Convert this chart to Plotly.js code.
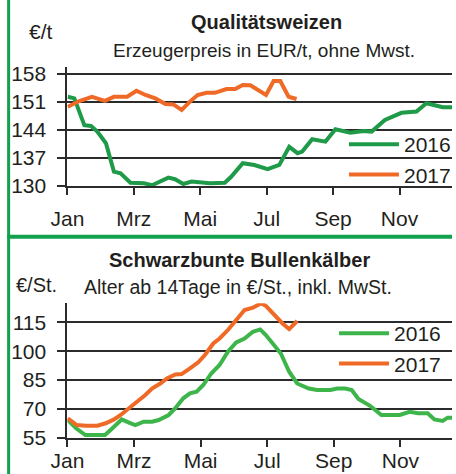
<!DOCTYPE html>
<html>
<head>
<meta charset="utf-8">
<script src="https://cdn.plot.ly/plotly-3.0.1.min.js"></script>
<style>
html,body{margin:0;padding:0;background:#fff;}
#chart{width:456px;height:474px;}
</style>
</head>
<body>
<div id="chart"></div>
<script>
// ---- data (x = position in months from 1 January) ----
const monthTicks = [0, 2, 4, 6, 8, 10];
const monthLabels = ['Jan', 'Mrz', 'Mai', 'Jul', 'Sep', 'Nov'];

const weizenTicks = [130, 137, 144, 151, 158];
const kaelberTicks = [55, 70, 85, 100, 115];

const weizen2016X = [0.01,0.21,0.51,0.71,0.90,1.16,1.40,1.60,1.90,2.30,2.55,2.80,3.04,3.24,3.49,3.74,4.04,4.29,4.74,4.93,5.28,5.63,6.03,6.38,6.68,6.93,7.07,7.37,7.77,8.07,8.52,8.92,9.16,9.56,10.06,10.51,10.81,11.10,11.30,11.58];
const weizen2016Y = [152.3,151.9,145.2,145,143.6,140.7,133.6,133.2,130.8,130.7,130.2,131.25,132.1,131.7,130.5,131.1,130.9,130.7,130.8,132.3,135.7,135.25,134.2,135.25,139.8,138.2,138.6,141.7,141.1,144.2,143.3,143.75,143.6,146.5,148.3,148.6,150.7,150,149.7,149.7];

const weizen2017X = [0.01,0.36,0.74,1.13,1.40,1.80,2.08,2.35,2.65,2.95,3.19,3.44,3.69,3.92,4.19,4.44,4.79,5.05,5.28,5.51,5.98,6.21,6.41,6.66,6.90];
const weizen2017Y = [149.8,151.25,152.3,151.3,152.3,152.3,153.8,152.75,151.9,150.5,150.4,149,151.1,152.75,153.3,153.3,154.25,154.25,155.25,155.2,152.75,156.25,156.25,152.3,151.75];

const kaelber2016X = [0.01,0.26,0.54,0.85,1.13,1.40,1.63,1.85,2.04,2.29,2.54,2.74,3.04,3.24,3.48,3.68,3.88,4.08,4.32,4.57,4.82,5.07,5.32,5.57,5.79,5.96,6.21,6.41,6.66,6.90,7.25,7.50,7.90,8.10,8.34,8.54,8.74,9.09,9.43,9.98,10.28,10.53,10.82,11.02,11.27,11.42,11.55];
const kaelber2016Y = [64.2,59.9,56.4,56.4,56.4,60.7,64.5,62.8,61.6,63.3,63.3,64.2,66.8,70.3,75.5,78.1,78.9,82.4,88.4,92.8,99.7,104.6,106.6,110.1,111.3,108.4,103.2,98.8,89.3,83.2,80.6,79.8,79.8,80.6,80.6,79.8,75.1,71.6,66.8,66.8,68.5,67.7,67.7,64.5,63.7,65.4,65.4];

const kaelber2017X = [0.01,0.28,0.56,0.90,1.15,1.40,1.60,1.85,2.09,2.34,2.54,2.79,2.99,3.24,3.43,3.68,3.93,4.13,4.38,4.57,4.82,5.07,5.32,5.57,5.81,5.96,6.26,6.46,6.66,6.90];
const kaelber2017Y = [65.1,61.6,61.2,61.2,62.5,64.5,66.8,70.6,73.7,77.2,80.6,83.2,85.8,87.9,88.1,91,94.2,98,104,106.6,111,116.2,121.4,122.6,124.8,123.6,117.9,114.4,111.5,115.7];

// ---- styling ----
const W = 456, H = 474;
const FONT = 'Liberation Sans, Arial, Helvetica, sans-serif';
const INK = '#231f20';
const GRID = '#2b2b2b';
const GREEN_TOP = '#1f9a48';
const GREEN_BOT = '#3db54a';
const ORANGE = '#ef6a27';
const FRAME = '#12a14c';
const px = v => v / W;
const py = v => (H - v) / H;

const traces = [
  {x: weizen2016X, y: weizen2016Y, name: '2016', mode: 'lines', xaxis: 'x', yaxis: 'y',
   line: {color: GREEN_TOP, width: 4}, legend: 'legend'},
  {x: weizen2017X, y: weizen2017Y, name: '2017', mode: 'lines', xaxis: 'x', yaxis: 'y',
   line: {color: ORANGE, width: 4}, legend: 'legend'},
  {x: kaelber2016X, y: kaelber2016Y, name: '2016', mode: 'lines', xaxis: 'x2', yaxis: 'y2',
   line: {color: GREEN_BOT, width: 4}, legend: 'legend2'},
  {x: kaelber2017X, y: kaelber2017Y, name: '2017', mode: 'lines', xaxis: 'x2', yaxis: 'y2',
   line: {color: ORANGE, width: 4}, legend: 'legend2'}
];

function xAxis(range, domain, anchor, standoff) {
  return {range: range, domain: domain, anchor: anchor,
    tickmode: 'array', tickvals: monthTicks, ticktext: monthLabels,
    ticks: 'outside', ticklen: 7, tickwidth: 2, tickcolor: GRID,
    showline: true, linecolor: GRID, linewidth: 2,
    showgrid: false, zeroline: false, fixedrange: true,
    tickfont: {family: FONT, size: 21, color: INK}, ticklabelstandoff: standoff};
}
function yAxis(range, domain, anchor, tickvals) {
  return {range: range, domain: domain, anchor: anchor,
    tickmode: 'array', tickvals: tickvals,
    ticks: 'outside', ticklen: 8, tickwidth: 2, tickcolor: GRID,
    showline: true, linecolor: GRID, linewidth: 2,
    showgrid: true, gridcolor: GRID, gridwidth: 2, zeroline: false, fixedrange: true,
    tickfont: {family: FONT, size: 21, color: INK}, ticklabelstandoff: 7};
}

const layout = {
  width: W, height: H,
  margin: {l: 0, r: 0, t: 0, b: 0},
  paper_bgcolor: '#fff', plot_bgcolor: '#fff',
  font: {family: FONT, color: INK},
  xaxis: xAxis([0, 11.58], [px(68), 1], 'y', 6),
  yaxis: yAxis([130, 159.75], [py(186), py(67)], 'x', weizenTicks),
  xaxis2: xAxis([0, 11.55], [px(68), 1], 'y2', -4),
  yaxis2: yAxis([55, 124.9], [py(437.7), py(303.3)], 'x2', kaelberTicks),
  showlegend: true,
  legend: {x: px(347), y: py(124), xanchor: 'left', yanchor: 'top',
    bgcolor: 'rgba(0,0,0,0)', borderwidth: 0, itemwidth: 50, tracegroupgap: 0,
    font: {family: FONT, size: 21, color: INK}},
  legend2: {x: px(337), y: py(313), xanchor: 'left', yanchor: 'top',
    bgcolor: 'rgba(0,0,0,0)', borderwidth: 0, itemwidth: 50,
    font: {family: FONT, size: 21, color: INK}},
  annotations: [
    {text: '<b>Qualitätsweizen</b>', xref: 'paper', yref: 'paper', x: px(268.5), y: py(22),
     xanchor: 'center', yanchor: 'middle', showarrow: false, font: {family: FONT, size: 20, color: INK}},
    {text: 'Erzeugerpreis in EUR/t, ohne Mwst.', xref: 'paper', yref: 'paper', x: px(266.5), y: py(50),
     xanchor: 'center', yanchor: 'middle', showarrow: false, font: {family: FONT, size: 19, color: INK}},
    {text: '€/t', xref: 'paper', yref: 'paper', x: px(27), y: py(32),
     xanchor: 'left', yanchor: 'middle', showarrow: false, font: {family: FONT, size: 21, color: INK}},
    {text: '<b>Schwarzbunte Bullenkälber</b>', xref: 'paper', yref: 'paper', x: px(241.7), y: py(260),
     xanchor: 'center', yanchor: 'middle', showarrow: false, font: {family: FONT, size: 20, color: INK}},
    {text: 'Alter ab 14Tage in €/St., inkl. MwSt.', xref: 'paper', yref: 'paper', x: px(240.5), y: py(287),
     xanchor: 'center', yanchor: 'middle', showarrow: false, font: {family: FONT, size: 19.5, color: INK}},
    {text: '€/St.', xref: 'paper', yref: 'paper', x: px(14), y: py(285),
     xanchor: 'left', yanchor: 'middle', showarrow: false, font: {family: FONT, size: 20, color: INK}}
  ],
  shapes: [
    {type: 'line', xref: 'paper', yref: 'paper', x0: px(8.7), x1: px(8.7), y0: 0, y1: 1,
     line: {color: FRAME, width: 3}},
    {type: 'line', xref: 'paper', yref: 'paper', x0: px(7.2), x1: 1, y0: py(236.8), y1: py(236.8),
     line: {color: FRAME, width: 4}}
  ]
};

Plotly.newPlot('chart', traces, layout, {displayModeBar: false, staticPlot: true});
</script>
</body>
</html>
